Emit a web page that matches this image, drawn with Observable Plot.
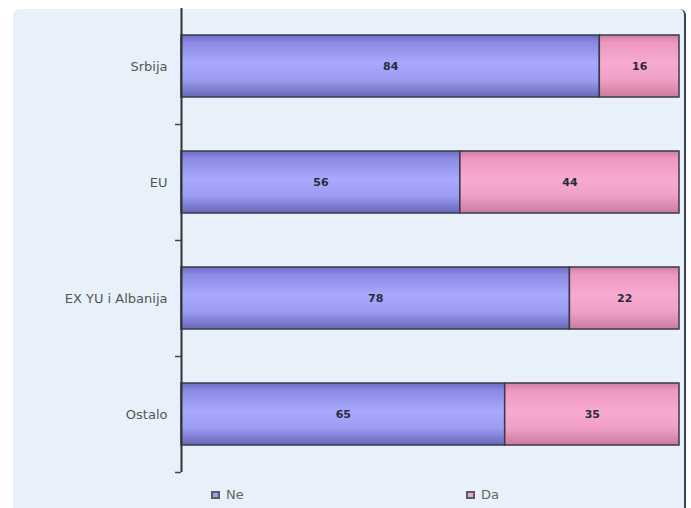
<!DOCTYPE html>
<html><head><meta charset="utf-8">
<script src="https://cdn.jsdelivr.net/npm/d3@7"></script>
<script src="https://cdn.jsdelivr.net/npm/@observablehq/plot@0.6"></script>
<style>
html,body{margin:0;padding:0;background:#fff;}
#wrap{position:relative;width:691px;height:508px;overflow:hidden;font-family:"DejaVu Sans",sans-serif;}
#card{position:absolute;left:13px;top:9px;width:671px;height:520px;background:#e8f1f9;border-radius:6px;border-right:2px solid #3c4250;}
#chart{position:absolute;left:0;top:0;}
#legend{position:absolute;left:0;top:487px;width:691px;height:20px;font-size:13px;color:#666;}
.item{position:absolute;display:flex;align-items:center;gap:6px;}
.sw{width:5px;height:4px;border:2px solid #5a5a6a;}
</style></head>
<body><div id="wrap"><div id="card"></div><div id="chart"></div><div id="legend"></div></div>
<script>
const categories = ["Srbija", "EU", "EX YU i Albanija", "Ostalo"];
const series = ["Ne", "Da"];
const neValues = [84, 56, 78, 65];
const daValues = [16, 44, 22, 35];
const seriesFill = ["url(#gNe)", "url(#gDa)"];
const legendSwatch = ["#a0a0e8", "#f0a8c8"];

const data = categories.flatMap((c, i) => [
  {cat: c, s: "Ne", v: neValues[i]},
  {cat: c, s: "Da", v: daValues[i]}
]);

const svg = Plot.plot({
  width: 691, height: 480,
  marginLeft: 181, marginRight: 12, marginTop: 8, marginBottom: 8,
  x: {domain: [0, 100], axis: null},
  y: {domain: categories, paddingInner: 0.466, paddingOuter: 0.233, label: null, tickSize: 0, tickPadding: 14},
  color: {domain: series, range: seriesFill},
  style: {background: "transparent", fontFamily: "DejaVu Sans", fontSize: "13px", color: "#555"},
  marks: [
    Plot.barX(data, Plot.stackX({x: "v", y: "cat", z: "s", fill: "s", stroke: "#3a3a4c", strokeWidth: 1.5, order: series})),
    Plot.text(data, Plot.stackX({x: "v", y: "cat", z: "s", text: "v", fill: "#2a2a3a", fontWeight: "bold", fontSize: 11, order: series})),
    Plot.ruleX([0], {stroke: "#333", strokeWidth: 2}),
    Plot.ruleY(categories, {y: d => d, x1: -1.2, x2: 0, dy: 58, stroke: "#444", strokeWidth: 1.5})
  ]
});

const defs = d3.select(svg).insert("defs", ":first-child");
function grad(id, stops) {
  const g = defs.append("linearGradient").attr("id", id).attr("x1", 0).attr("y1", 0).attr("x2", 0).attr("y2", 1);
  stops.forEach(([o, c]) => g.append("stop").attr("offset", o).attr("stop-color", c));
}
grad("gNe", [[0, "#6c6cc0"], [0.12, "#8a8ae4"], [0.45, "#a8a8fc"], [0.72, "#9c9cf2"], [1, "#6868b8"]]);
grad("gDa", [[0, "#d07ca2"], [0.12, "#ec98c0"], [0.45, "#f8aad0"], [0.72, "#f0a0c6"], [1, "#cc7aa0"]]);

document.getElementById("chart").appendChild(svg);

const legend = document.getElementById("legend");
const legendX = [211, 466];
series.forEach((s, i) => {
  const it = document.createElement("div");
  it.className = "item";
  it.style.left = legendX[i] + "px";
  it.innerHTML = `<span class="sw" style="background:${legendSwatch[i]}"></span><span>${s}</span>`;
  legend.appendChild(it);
});
</script>
</body></html>
